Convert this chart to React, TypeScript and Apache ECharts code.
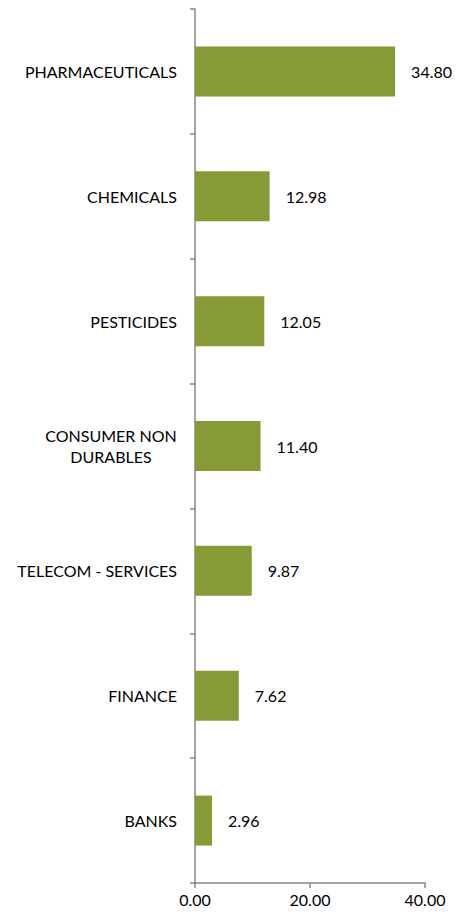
import React, { useEffect, useRef } from "react";
import * as echarts from "echarts";

const categories = [
  "PHARMACEUTICALS",
  "CHEMICALS",
  "PESTICIDES",
  "CONSUMER NON DURABLES",
  "TELECOM - SERVICES",
  "FINANCE",
  "BANKS",
];
const values = [34.8, 12.98, 12.05, 11.4, 9.87, 7.62, 2.96];
const xTicks = { min: 0, max: 40, interval: 20 };

export default function App() {
  const ref = useRef<HTMLDivElement>(null);
  useEffect(() => {
    if (!ref.current) return;
    const chart = echarts.init(ref.current, null, { renderer: "svg" });
    const font = "Lato, 'Open Sans', sans-serif";
    chart.setOption({
      animation: false,
      grid: { left: 195, right: 41, top: 9, bottom: 32, containLabel: false },
      xAxis: {
        type: "value",
        min: xTicks.min,
        max: xTicks.max,
        interval: xTicks.interval,
        splitLine: { show: false },
        axisLine: { show: true, lineStyle: { color: "#868686", width: 1.5 } },
        axisTick: { show: true, length: 5, inside: false, lineStyle: { color: "#868686", width: 1.5 } },
        axisLabel: {
          color: "#000",
          fontSize: 16,
          fontFamily: font,
          margin: 8,
          formatter: (v: number) => v.toFixed(2),
        },
      },
      yAxis: {
        type: "category",
        inverse: true,
        data: categories,
        axisLine: { show: true, lineStyle: { color: "#868686", width: 1.5 } },
        axisTick: { show: true, length: 5, lineStyle: { color: "#868686", width: 1.5 } },
        axisLabel: {
          color: "#000",
          fontSize: 16,
          fontFamily: font,
          margin: 18,
          formatter: (v: string) =>
            v === "CONSUMER NON DURABLES" ? "{c|CONSUMER NON}\n{c|DURABLES}" : v,
          rich: {
            c: { width: 132, align: "center", fontSize: 16, fontFamily: font, color: "#000", lineHeight: 21 },
          },
        },
      },
      series: [
        {
          type: "bar",
          data: values,
          barWidth: 50,
          itemStyle: { color: "#869B36" },
          label: {
            show: true,
            position: "right",
            distance: 16,
            color: "#000",
            fontSize: 16,
            fontFamily: font,
            formatter: (p: any) => Number(p.value).toFixed(2),
          },
        },
      ],
    });
    return () => chart.dispose();
  }, []);
  return <div ref={ref} style={{ width: 466, height: 915, position: "absolute", left: 0, top: 0 }} />;
}
